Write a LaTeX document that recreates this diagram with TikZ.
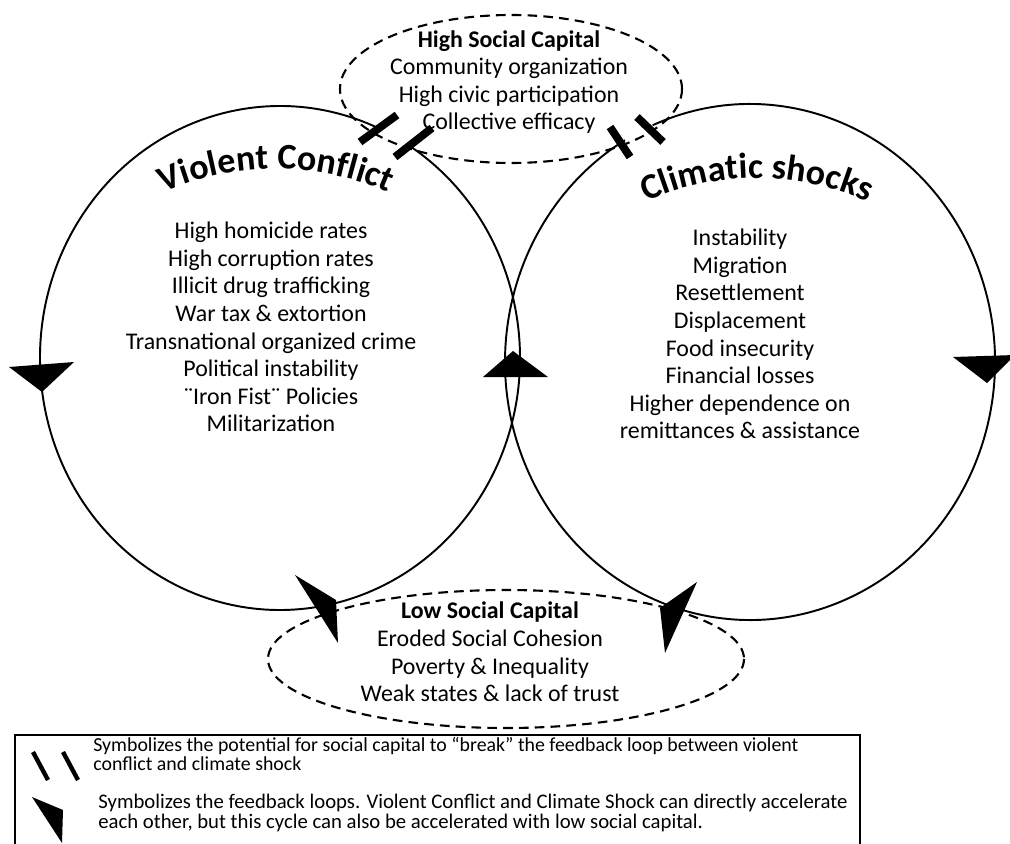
\documentclass[tikz,border=0pt]{standalone}
\usepackage{fontspec}
\setmainfont{Carlito}
\usetikzlibrary{decorations.text}

\begin{document}
\begin{tikzpicture}[x=0.02cm,y=-0.02cm,
		loop/.style={line width=1.1pt},
		capital/.style={line width=1.2pt,dash pattern=on 5.5pt off 3.5pt},
		listtext/.style={align=center,inner sep=0pt,font=\fontsize{13.6}{15.7}\selectfont},
		keytext/.style={align=left,anchor=west,inner sep=0pt,font=\fontsize{11.3}{10.6}\selectfont},
		breakbar/.style={line width=4.5pt},
		title/.style={decorate,decoration={text along path,text align=center,
			text={|\fontsize{20.5}{20}\selectfont\bfseries|#1}}}]
	\useasboundingbox (0,0) rectangle (1010,844);
	\draw[capital] (511,89) ellipse[x radius=171,y radius=74];
	\draw[capital] (506,659) ellipse[x radius=238,y radius=69];
	\draw[loop] (280,358) ++(-56.7:240 and 252) arc[start angle=-56.7,end angle=294.1,x radius=240,y radius=252];
	\draw[loop] (750,362) ++(-113.4:245 and 258) arc[start angle=-113.4,end angle=239.3,x radius=245,y radius=258];
	\draw[breakbar] (360,142) -- (397,115);
	\draw[breakbar] (395,157) -- (432,128);
	\draw[breakbar] (610,127) -- (630,157);
	\draw[breakbar] (637,117) -- (663,142);
	\fill (9,367) -- (74,362) -- (42,392) -- cycle;
	\fill (513,351) -- (483,377) -- (548,377) -- cycle;
	\fill (953,357) -- (1015,355) -- (987,383) -- cycle;
	\fill (295,575) -- (336,600) -- (338,643) -- cycle;
	\fill (697,582) -- (660,608) -- (665,653) -- cycle;
	\path[title={Violent Conflict}] (276,449) ++(-124:280) arc[start angle=-124,end angle=-56,radius=280];
	\path[title={Climatic shocks}] (757,449) ++(-124:271) arc[start angle=-124,end angle=-56,radius=271];
	\node[listtext] (highcap) at (509,82) {\textbf{High Social Capital}\\Community organization\\High civic participation\\Collective efficacy};
	\node[listtext] (lowcap) at (490,652) {\textbf{Low Social Capital}\\Eroded Social Cohesion\\Poverty \& Inequality\\Weak states \& lack of trust};
	\node[listtext] (conflictlist) at (271,327) {High homicide rates\\High corruption rates\\Illicit drug trafficking\\War tax \& extortion\\Transnational organized crime\\Political instability\\¨Iron Fist¨ Policies\\Militarization};
	\node[listtext] (shocklist) at (740,334) {Instability\\Migration\\Resettlement\\Displacement\\Food insecurity\\Financial losses\\Higher dependence on\\remittances \& assistance};
	\draw[line width=0.9pt] (15,735) rectangle (860,880);
	\draw[line width=2.5pt] (33,752) -- (48,780);
	\draw[line width=2.5pt] (63,752) -- (78,780);
	\fill (32,797) -- (63,810) -- (62,843) -- cycle;
	\node[keytext] (keybreak) at (93,754) {Symbolizes the potential for social capital to “break” the feedback loop between violent\\conflict and climate shock};
	\node[keytext,font=\fontsize{11.8}{11.4}\selectfont] (keyloop) at (98,813) {Symbolizes the feedback loops. Violent Conflict and Climate Shock can directly accelerate\\each other, but this cycle can also be accelerated with low social capital.};
\end{tikzpicture}
\end{document}
